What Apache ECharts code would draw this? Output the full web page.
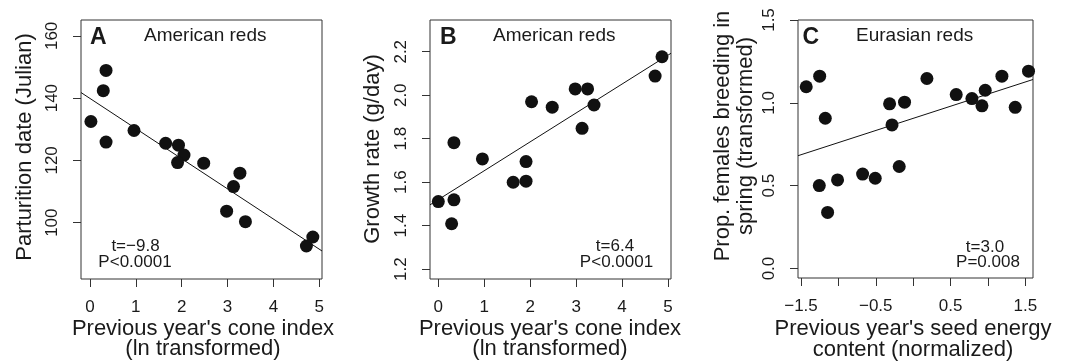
<!DOCTYPE html>
<html>
<head>
<meta charset="utf-8">
<script src="https://cdn.jsdelivr.net/npm/echarts@6/dist/echarts.min.js"></script>
<style>
  html, body { margin: 0; padding: 0; background: #fff; }
  #chart { width: 1069px; height: 362px; }
</style>
</head>
<body>
<div id="chart"></div>
<script>
var chart = echarts.init(document.getElementById("chart"));

// A: parturition date vs previous year's cone index (American reds)
var coneA = [0.02, 0.29, 0.35, 0.35, 0.96, 1.65, 1.93, 2.05, 1.91, 2.48, 3.27, 3.13, 2.98, 3.39, 4.72, 4.86];
var partA = [132.5, 142.4, 148.9, 125.9, 129.6, 125.5, 124.9, 121.7, 119.3, 119.1, 115.9, 111.6, 103.7, 100.3, 92.5, 95.4];
var fitA = [[-0.196, 141.8], [5.06, 90.9]];

// B: growth rate vs previous year's cone index (American reds)
var coneB = [0, 0.34, 0.29, 0.34, 0.96, 1.63, 1.91, 1.91, 2.03, 2.48, 2.98, 3.25, 3.39, 3.13, 4.72, 4.87];
var growthB = [1.511, 1.519, 1.409, 1.782, 1.707, 1.600, 1.605, 1.695, 1.970, 1.945, 2.029, 2.029, 1.955, 1.848, 2.088, 2.177];
var fitB = [[-0.181, 1.496], [5.066, 2.193]];

// C: proportion of females breeding in spring vs seed energy (Eurasian reds)
var seedC = [-1.43, -1.25, -1.175, -1.255, -1.144, -1.011, -0.676, -0.507, -0.315, -0.283, -0.115, -0.186, 0.184, 0.576, 0.786, 0.92, 0.964, 1.187, 1.365, 1.543];
var propC = [1.097, 1.161, 0.907, 0.501, 0.339, 0.535, 0.570, 0.545, 0.994, 0.867, 1.004, 0.616, 1.147, 1.050, 1.026, 0.982, 1.076, 1.161, 0.973, 1.191];
var fitC = [[-1.54, 0.681], [1.603, 1.141]];

// tick positions and labels
var ticksAX = [0, 1, 2, 3, 4, 5];
var ticksAY = [100, 120, 140, 160];
var ticksBY = [1.2, 1.4, 1.6, 1.8, 2.0, 2.2];
var ticksCX = [-1.5, -1, -0.5, 0, 0.5, 1, 1.5];
var labelsCX = [-1.5, -0.5, 0.5, 1.5];
var ticksCY = [0, 0.5, 1, 1.5];

var FONT = "'Liberation Sans', Arial, Helvetica, sans-serif";
var INK = "#1a1a1a";
var EDGE = "#333";

function pairs(xs, ys) {
  var res = [];
  for (var i = 0; i < xs.length; i++) res.push([xs[i], ys[i]]);
  return res;
}

function minusFmt(v) {
  return (v < 0 ? "\u2212" : "") + Math.abs(v).toFixed(1);
}

function axis(gridIndex, min, max, ticks, labels, fmt, isY) {
  return {
    type: "value",
    gridIndex: gridIndex,
    min: min,
    max: max,
    splitLine: { show: false },
    axisLine: { show: false, onZero: false },
    axisTick: {
      show: true, inside: false, length: 8, customValues: ticks,
      lineStyle: { color: EDGE, width: 1 }
    },
    axisLabel: {
      customValues: labels,
      margin: 20,
      rotate: isY ? 90 : 0,
      fontSize: 17,
      color: INK,
      fontFamily: FONT,
      formatter: fmt
    }
  };
}

function grid(left, width, height) {
  return {
    left: left, top: 20, width: width, height: height,
    show: true, borderColor: EDGE, borderWidth: 1,
    backgroundColor: "transparent",
    containLabel: false, outerBoundsMode: "none"
  };
}

function dots(i, data) {
  return {
    type: "scatter", xAxisIndex: i, yAxisIndex: i, data: data,
    symbolSize: 13, itemStyle: { color: "#111", opacity: 1 }, silent: true
  };
}

function fit(i, data) {
  return {
    type: "line", xAxisIndex: i, yAxisIndex: i, data: data,
    showSymbol: false, clip: true, silent: true,
    lineStyle: { color: "#111", width: 1 }
  };
}

function txt(x, y, s, size, opts) {
  opts = opts || {};
  return {
    type: "text", x: x, y: y, rotation: opts.rot || 0, silent: true,
    style: {
      text: s, fill: INK,
      font: (opts.bold ? "bold " : "") + size + "px " + FONT,
      align: opts.align || "center", verticalAlign: "middle"
    }
  };
}

var plain = function (v) { return String(v); };
var one = function (v) { return v.toFixed(1); };
var R = Math.PI / 2;

var option = {
  animation: false,
  backgroundColor: "#fff",
  grid: [grid(81, 241, 259), grid(430, 241, 259), grid(798, 235, 258)],
  xAxis: [
    axis(0, -0.196, 5.06, ticksAX, ticksAX, plain, false),
    axis(1, -0.181, 5.066, ticksAX, ticksAX, plain, false),
    axis(2, -1.54, 1.603, ticksCX, labelsCX, minusFmt, false)
  ],
  yAxis: [
    axis(0, 81.9, 165.1, ticksAY, ticksAY, plain, true),
    axis(1, 1.155, 2.346, ticksBY, ticksBY, one, true),
    axis(2, -0.057, 1.5, ticksCY, ticksCY, one, true)
  ],
  graphic: [
    txt(90, 37.5, "A", 23, { bold: true, align: "left" }),
    txt(144, 36, "American reds", 19, { align: "left" }),
    txt(135.5, 246, "t=\u22129.8", 17),
    txt(135, 262, "P<0.0001", 17),
    txt(440, 37.5, "B", 23, { bold: true, align: "left" }),
    txt(493, 36, "American reds", 19, { align: "left" }),
    txt(615, 246, "t=6.4", 17),
    txt(616.5, 262, "P<0.0001", 17),
    txt(802.5, 37.5, "C", 23, { bold: true, align: "left" }),
    txt(856, 36, "Eurasian reds", 19, { align: "left" }),
    txt(985, 247, "t=3.0", 17),
    txt(988, 262, "P=0.008", 17),

    txt(203, 329, "Previous year's cone index", 22),
    txt(203, 348.5, "(ln transformed)", 22),
    txt(550, 329, "Previous year's cone index", 22),
    txt(550, 348.5, "(ln transformed)", 22),
    txt(913, 329, "Previous year's seed energy", 22),
    txt(913, 350, "content (normalized)", 22),

    txt(25, 147, "Parturition date (Julian)", 22, { rot: R }),
    txt(373, 149, "Growth rate (g/day)", 22, { rot: R }),
    txt(723, 136, "Prop. females breeding in", 22, { rot: R }),
    txt(746, 136, "spring (transformed)", 22, { rot: R })
  ],
  series: [
    fit(0, fitA), dots(0, pairs(coneA, partA)),
    fit(1, fitB), dots(1, pairs(coneB, growthB)),
    fit(2, fitC), dots(2, pairs(seedC, propC))
  ]
};

chart.setOption(option);
</script>
</body>
</html>
